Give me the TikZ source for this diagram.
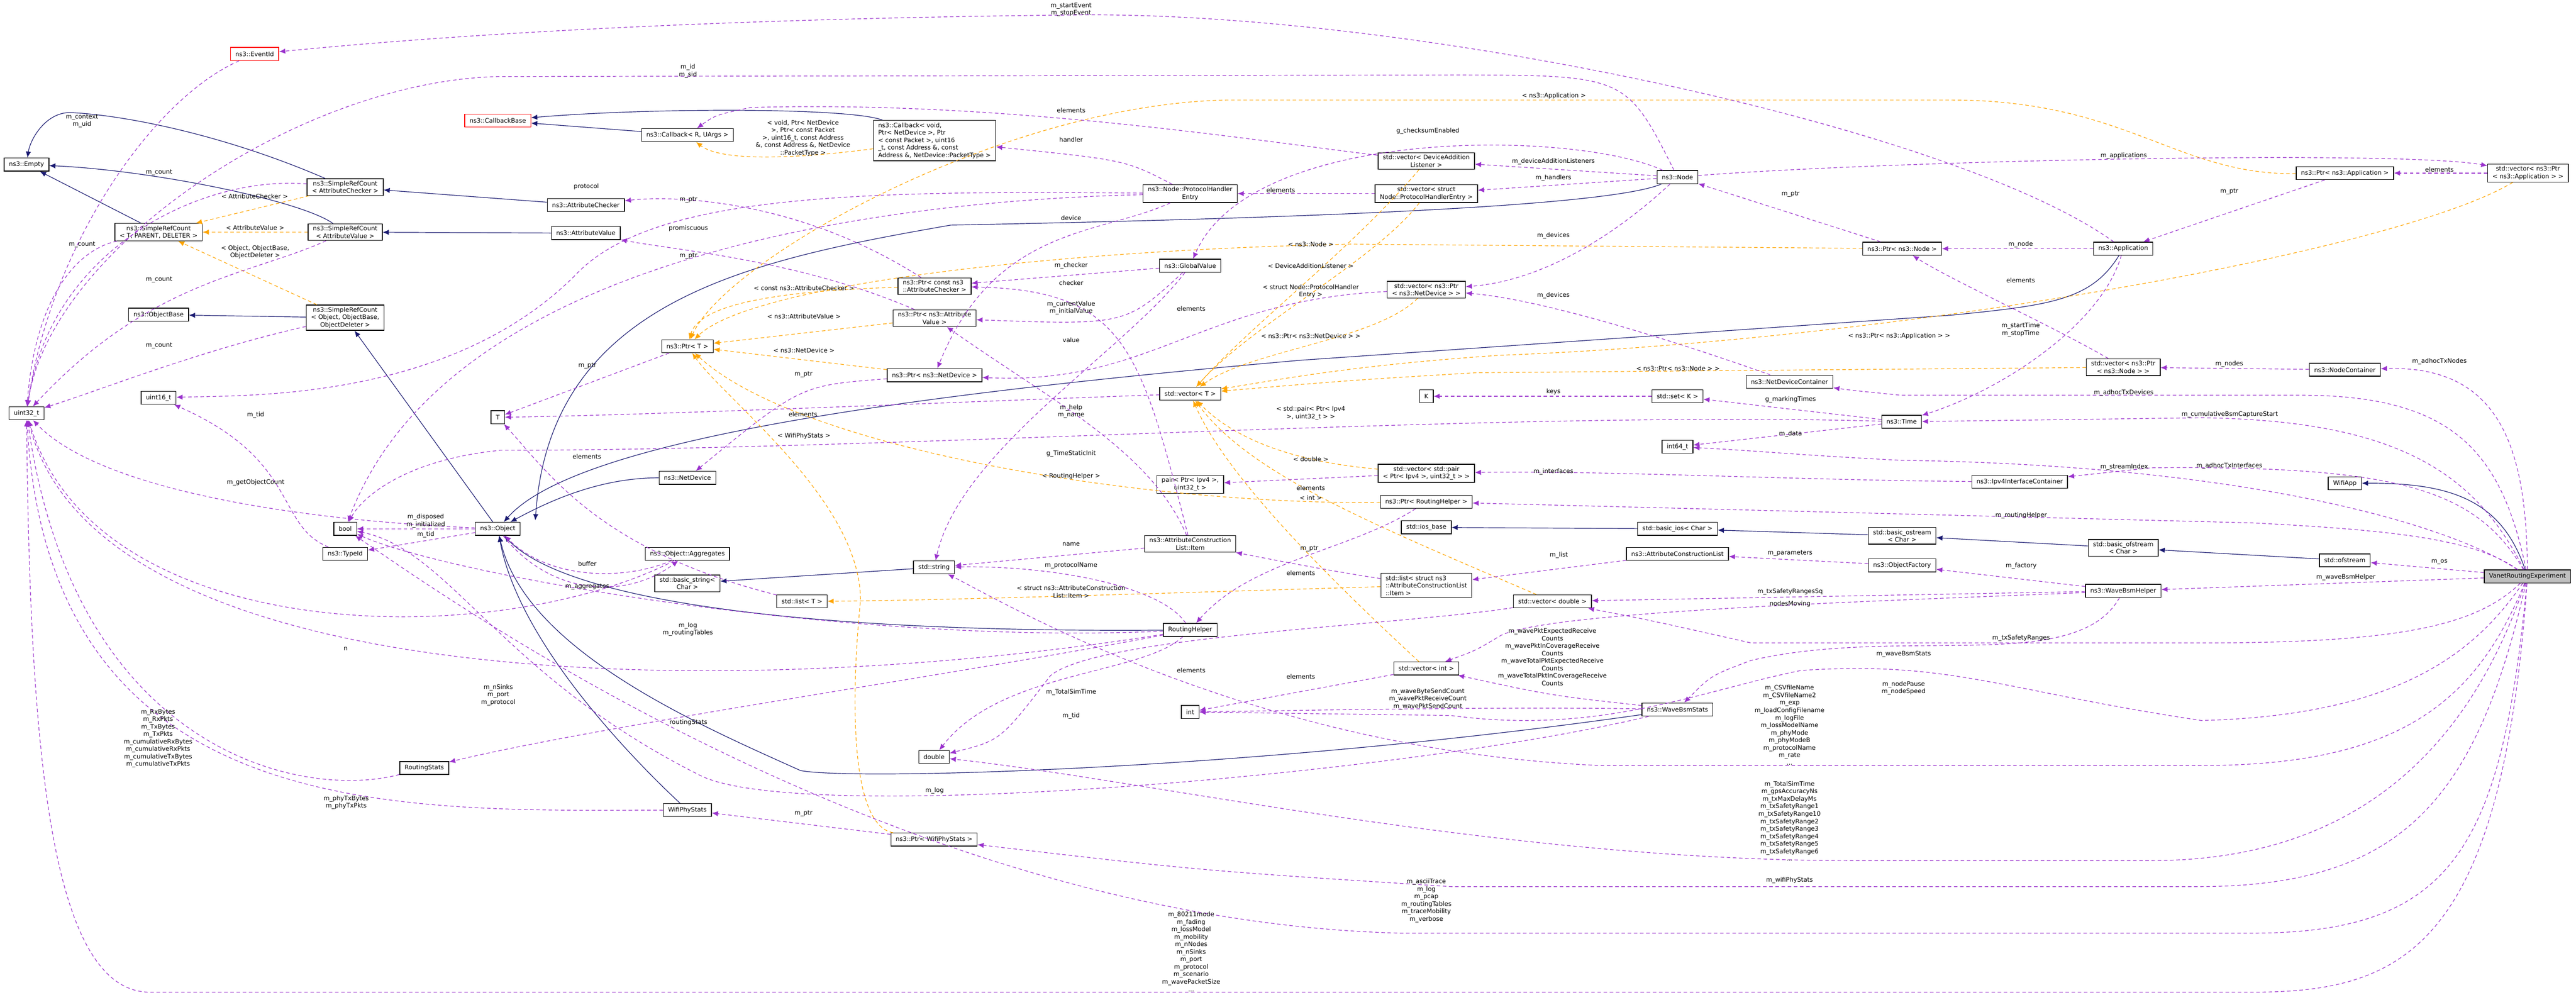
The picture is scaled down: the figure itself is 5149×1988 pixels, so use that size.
\documentclass[tikz,border=0pt]{standalone}
\usepackage{fontspec}
\setmainfont{DejaVu Sans}
\usetikzlibrary{arrows.meta}
\definecolor{purp}{HTML}{9A32CD}
\definecolor{orng}{HTML}{FFA500}
\definecolor{navy}{HTML}{191970}
\tikzset{
 box/.style={draw=black,line width=0.08pt,fill=white,align=center,inner xsep=0.55pt,inner ysep=0.25pt,minimum height=0.052cm,font=\fontsize{0.7}{0.85}\selectfont},
 redbox/.style={box,draw=red},
 lbl/.style={align=center,inner sep=0pt,font=\fontsize{0.7}{0.85}\selectfont},
 inh/.style={navy,line width=0.07pt,-{Latex[length=0.7pt,width=0.6pt]}},
 use/.style={purp,line width=0.07pt,dash pattern=on 0.4pt off 0.3pt,-{Latex[length=0.7pt,width=0.6pt]}},
 tpl/.style={orng,line width=0.07pt,dash pattern=on 0.4pt off 0.3pt,-{Latex[length=0.7pt,width=0.6pt]}},
}
\begin{document}
\begin{tikzpicture}[x=0.002cm,y=-0.002cm]
\useasboundingbox (0,0) rectangle (5149,1988);
% nodes
\node[redbox] (eventid) at (509,108) {ns3::EventId};
\node[redbox] (cbbase) at (995,241) {ns3::CallbackBase};
\node[box] (empty) at (53,329) {ns3::Empty};
\node[box] (srcac) at (690,374) {ns3::SimpleRefCount\\< AttributeChecker >};
\node[box] (srct) at (317,464) {ns3::SimpleRefCount\\< T, PARENT, DELETER >};
\node[box] (srcav) at (690,464) {ns3::SimpleRefCount\\< AttributeValue >};
\node[box] (attrchk) at (1171,410) {ns3::AttributeChecker};
\node[box] (attrval) at (1171,466) {ns3::AttributeValue};
\node[box] (objbase) at (317,629) {ns3::ObjectBase};
\node[box] (srcobj) at (690,635) {ns3::SimpleRefCount\\< Object, ObjectBase,\\ObjectDeleter >};
\node[box] (u16) at (317,795) {uint16\_t};
\node[box] (u32) at (53,826) {uint32\_t};
\node[box] (T) at (995,834) {T};
\node[box] (cbr) at (1374,270) {ns3::Callback< R, UArgs >};
\node[box,align=left] (cbv) at (1868,281) {ns3::Callback< void,\\ Ptr< NetDevice >, Ptr\\< const Packet >, uint16\\\_t, const Address \&, const\\ Address \&, NetDevice::PacketType >};
\node[box] (phe) at (2379,387) {ns3::Node::ProtocolHandler\\Entry};
\node[box] (gv) at (2379,531) {ns3::GlobalValue};
\node[box,align=left] (ptrac) at (1868,572) {ns3::Ptr< const ns3\\::AttributeChecker >};
\node[box] (ptrav) at (1868,636) {ns3::Ptr< ns3::Attribute\\Value >};
\node[box] (ptrT) at (1374,692) {ns3::Ptr< T >};
\node[box] (ptrnd) at (1868,750) {ns3::Ptr< ns3::NetDevice >};
\node[box] (vecT) at (2379,787) {std::vector< T >};
\node[box] (netdev) at (1374,955) {ns3::NetDevice};
\node[box] (pairipv4) at (2379,968) {pair< Ptr< Ipv4 >,\\uint32\_t >};
\node[box] (vdal) at (2851,322) {std::vector< DeviceAddition\\Listener >};
\node[box] (vphe) at (2851,387) {std::vector< struct\\ Node::ProtocolHandlerEntry >};
\node[box] (node) at (3353,354) {ns3::Node};
\node[box] (ptrnode) at (3802,497) {ns3::Ptr< ns3::Node >};
\node[box] (vptrnd) at (2851,579) {std::vector< ns3::Ptr\\< ns3::NetDevice > >};
\node[box] (ndc) at (3577,763) {ns3::NetDeviceContainer};
\node[box] (K) at (2851,792) {K};
\node[box] (setK) at (3353,792) {std::set< K >};
\node[box] (time) at (3801,843) {ns3::Time};
\node[box] (i64) at (3353,893) {int64\_t};
\node[box] (vpair) at (2851,946) {std::vector< std::pair\\< Ptr< Ipv4 >, uint32\_t > >};
\node[box] (ptrrh) at (2851,1003) {ns3::Ptr< RoutingHelper >};
\node[box] (ptrapp) at (4687,346) {ns3::Ptr< ns3::Application >};
\node[box] (vptrapp) at (5053,346) {std::vector< ns3::Ptr\\< ns3::Application > >};
\node[box] (app) at (4244,497) {ns3::Application};
\node[box] (vptrnode) at (4244,734) {std::vector< ns3::Ptr\\< ns3::Node > >};
\node[box] (nodecont) at (4687,739) {ns3::NodeContainer};
\node[box] (ipv4ic) at (4037,963) {ns3::Ipv4InterfaceContainer};
\node[box] (wifiapp) at (4687,966) {WifiApp};
\node[box] (bool) at (690,1057) {bool};
\node[box] (object) at (995,1057) {ns3::Object};
\node[box] (typeid) at (690,1107) {ns3::TypeId};
\node[box] (routingstats) at (848,1535) {RoutingStats};
\node[box] (aggr) at (1374,1107) {ns3::Object::Aggregates};
\node[box] (bstring) at (1374,1166) {std::basic\_string<\\Char >};
\node[box] (listT) at (1603,1202) {std::list< T >};
\node[box] (string) at (1867,1134) {std::string};
\node[box] (item) at (2379,1087) {ns3::AttributeConstruction\\List::Item};
\node[box] (rh) at (2379,1259) {RoutingHelper};
\node[box] (int) at (2379,1423) {int};
\node[box] (double) at (1867,1513) {double};
\node[box] (wps) at (1374,1619) {WifiPhyStats};
\node[box] (ptrwps) at (1867,1678) {ns3::Ptr< WifiPhyStats >};
\node[box] (iosbase) at (2851,1054) {std::ios\_base};
\node[box] (basicios) at (3353,1057) {std::basic\_ios< Char >};
\node[box] (bostream) at (3802,1071) {std::basic\_ostream\\< Char >};
\node[box] (acl) at (3353,1107) {ns3::AttributeConstructionList};
\node[box] (of) at (3802,1130) {ns3::ObjectFactory};
\node[box,align=left] (listitem) at (2851,1170) {std::list< struct ns3\\::AttributeConstructionList\\::Item >};
\node[box] (vdouble) at (3103,1202) {std::vector< double >};
\node[box] (vint) at (2851,1336) {std::vector< int >};
\node[box] (wbs) at (3353,1418) {ns3::WaveBsmStats};
\node[box] (bofstream) at (4244,1095) {std::basic\_ofstream\\< Char >};
\node[box] (ofstream) at (4687,1120) {std::ofstream};
\node[box] (wbh) at (4244,1181) {ns3::WaveBsmHelper};
\node[box,fill=black!25] (vre) at (5052,1152) {VanetRoutingExperiment};
% inheritance
\draw[inh] (srcac) .. controls (450,270) and (250,230) .. (140,225) .. controls (90,225) and (60,280) .. (empty);
\draw[inh] (srcav) .. controls (600,400) and (300,340) .. (empty);
\draw[inh] (srct) -- (empty);
\draw[inh] (attrchk) -- (srcac);
\draw[inh] (attrval) -- (srcav);
\draw[inh] (srcobj) -- (objbase);
\draw[inh] (object) -- (srcobj);
\draw[inh] (cbv) .. controls (1700,215) and (1300,215) .. (cbbase);
\draw[inh] (cbr) -- (cbbase);
\draw[inh] (node) .. controls (3200,420) and (2400,440) .. (1900,450) .. controls (1500,520) and (1100,600) .. (1070,1040);
\draw[inh] (app) .. controls (4180,600) and (4100,610) .. (3900,630) -- (2600,720) .. controls (1800,790) and (1150,880) .. (object);
\draw[inh] (netdev) .. controls (1200,955) and (1100,1000) .. (object);
\draw[inh] (rh) .. controls (1600,1265) and (1130,1200) .. (object);
\draw[inh] (wbs) .. controls (2500,1540) and (1700,1560) .. (1600,1540) .. controls (1400,1450) and (1050,1300) .. (object);
\draw[inh] (wps) .. controls (1300,1550) and (1040,1300) .. (object);
\draw[inh] (string) -- (bstring);
\draw[inh] (basicios) -- (iosbase);
\draw[inh] (bostream) -- (basicios);
\draw[inh] (bofstream) -- (bostream);
\draw[inh] (ofstream) -- (bofstream);
\draw[inh] (vre) .. controls (5000,1000) and (4900,965) .. (wifiapp);
% template
\draw[tpl] (srcac) -- (srct);
\draw[tpl] (srcav) -- (srct);
\draw[tpl] (srcobj) -- (srct);
\draw[tpl] (cbv) .. controls (1650,310) and (1450,330) .. (cbr);
\draw[tpl] (ptrac) .. controls (1600,580) and (1400,600) .. (ptrT);
\draw[tpl] (ptrav) -- (ptrT);
\draw[tpl] (ptrnd) -- (ptrT);
\draw[tpl] (ptrnode) -- (2700,488) .. controls (2100,500) and (1500,570) .. (ptrT);
\draw[tpl] (ptrapp) .. controls (4350,350) and (4250,200) .. (3900,200) -- (2450,200) .. controls (2000,210) and (1450,520) .. (ptrT);
\draw[tpl] (ptrwps) .. controls (1700,1650) and (1700,1400) .. (1720,1200) .. controls (1720,1000) and (1450,800) .. (ptrT);
\draw[tpl] (ptrrh) .. controls (2300,1010) and (1600,900) .. (ptrT);
\draw[tpl] (vdal) .. controls (2700,500) and (2500,650) .. (vecT);
\draw[tpl] (vphe) .. controls (2750,520) and (2500,650) .. (vecT);
\draw[tpl] (vptrnd) .. controls (2750,680) and (2500,700) .. (vecT);
\draw[tpl] (vpair) .. controls (2550,920) and (2450,860) .. (vecT);
\draw[tpl] (vdouble) .. controls (2750,1050) and (2500,950) .. (vecT);
\draw[tpl] (vint) .. controls (2650,1150) and (2450,950) .. (vecT);
\draw[tpl] (vptrapp) .. controls (4800,500) and (3800,680) .. (3000,710) .. controls (2700,730) and (2550,760) .. (vecT);
\draw[tpl] (vptrnode) -- (2950,745) .. controls (2700,760) .. (vecT);
\draw[tpl] (listitem) .. controls (2500,1180) and (1900,1200) .. (listT);
% usage
\draw[use] (eventid) .. controls (300,200) and (100,500) .. (u32);
\draw[use] (srcac) .. controls (400,350) and (100,500) .. (u32);
\draw[use] (srct) .. controls (150,500) and (70,600) .. (u32);
\draw[use] (srcav) .. controls (500,550) and (300,560) .. (u32);
\draw[use] (srcobj) .. controls (400,700) and (200,780) .. (u32);
\draw[use] (node) .. controls (3250,150) .. (2900,150) -- (1000,153) .. controls (600,160) and (100,500) .. (u32);
\draw[use] (object) .. controls (600,1040) and (200,980) .. (u32);
\draw[use] (aggr) .. controls (1000,1300) and (200,1300) .. (u32);
\draw[use] (rh) .. controls (1500,1400) and (200,1400) .. (u32);
\draw[use] (routingstats) .. controls (600,1600) and (150,1500) .. (u32);
\draw[use] (wps) .. controls (800,1620) and (100,1650) .. (u32);
\draw[use] (vre) .. controls (5000,1900) and (4800,1983) .. (4500,1983) -- (300,1983) .. controls (100,1983) and (60,1500) .. (u32);
\draw[use] (app) .. controls (3900,250) and (2800,20) .. (2141,30) .. controls (1200,40) and (700,90) .. (eventid);
\draw[use] (phe) .. controls (1700,380) and (1300,390) .. (1150,550) .. controls (900,800) and (500,790) .. (u16);
\draw[use] (typeid) .. controls (550,1050) and (600,920) .. (u16);
\draw[use] (ptrT) -- (T);
\draw[use] (vecT) .. controls (2000,800) and (1300,830) .. (T);
\draw[use] (listT) .. controls (1200,1100) and (1100,950) .. (T);
\draw[use] (vdal) .. controls (2500,280) and (2000,200) .. (1500,215) .. controls (1430,230) .. (cbr);
\draw[use] (phe) .. controls (2250,320) .. (cbv);
\draw[use] (vphe) -- (phe);
\draw[use] (ptrac) .. controls (1600,400) and (1350,390) .. (attrchk);
\draw[use] (ptrav) .. controls (1600,520) and (1350,500) .. (attrval);
\draw[use] (phe) .. controls (1800,400) and (900,500) .. (bool);
\draw[use] (phe) .. controls (2200,470) and (1990,450) .. (ptrnd);
\draw[use] (node) .. controls (3150,260) and (2500,250) .. (gv);
\draw[use] (gv) -- (ptrac);
\draw[use] (item) .. controls (2280,700) and (2250,580) .. (ptrac);
\draw[use] (gv) .. controls (2250,650) .. (ptrav);
\draw[use] (item) .. controls (2300,900) and (2100,800) .. (ptrav);
\draw[use] (vptrnd) .. controls (2400,600) and (2300,770) .. (ptrnd);
\draw[use] (ptrnd) .. controls (1600,770) .. (netdev);
\draw[use] (gv) .. controls (2250,700) and (1920,900) .. (string);
\draw[use] (time) .. controls (3000,820) and (1800,900) .. (1000,900) .. controls (800,920) and (720,1000) .. (bool);
\draw[use] (vpair) -- (pairipv4);
\draw[use] (node) -- (vdal);
\draw[use] (node) -- (vphe);
\draw[use] (ptrnode) -- (node);
\draw[use] (node) .. controls (3250,450) and (3100,560) .. (vptrnd);
\draw[use] (ndc) .. controls (3400,700) and (3100,600) .. (vptrnd);
\draw[use] (setK) -- (K);
\draw[use] (time) -- (setK);
\draw[use] (time) -- (i64);
\draw[use] (ipv4ic) .. controls (3600,960) and (3200,940) .. (vpair);
\draw[use] (vptrnode) .. controls (4100,650) and (3900,560) .. (ptrnode);
\draw[use] (node) .. controls (3800,320) and (4800,300) .. (vptrapp);
\draw[use] (vptrapp) -- (ptrapp);
\draw[use] (ptrapp) -- (app);
\draw[use] (app) -- (ptrnode);
\draw[use] (app) .. controls (4200,650) and (4000,780) .. (time);
\draw[use] (nodecont) -- (vptrnode);
\draw[use] (vre) .. controls (5050,900) and (5000,730) .. (nodecont);
\draw[use] (vre) .. controls (5000,900) and (4900,790) .. (4600,790) -- (3800,790) .. controls (3700,780) .. (ndc);
\draw[use] (vre) .. controls (4950,950) and (4800,840) .. (4400,835) -- (time);
\draw[use] (vre) .. controls (4900,1050) and (4500,930) .. (3800,920) .. controls (3600,910) and (3500,900) .. (i64);
\draw[use] (vre) .. controls (4950,980) and (4800,930) .. (4300,935) -- (ipv4ic);
\draw[use] (object) -- (bool);
\draw[use] (object) -- (typeid);
\draw[use] (aggr) .. controls (1250,1160) and (1100,1160) .. (object);
\draw[use] (object) .. controls (1100,1190) and (1250,1200) .. (aggr);
\draw[use] (rh) .. controls (1700,1290) and (900,1150) .. (bool);
\draw[use] (item) -- (string);
\draw[use] (rh) .. controls (2320,1170) and (2100,1130) .. (string);
\draw[use] (rh) .. controls (1900,1350) and (1200,1450) .. (routingstats);
\draw[use] (vdouble) .. controls (2800,1250) and (2200,1270) .. (2100,1350) .. controls (2000,1480) .. (double);
\draw[use] (rh) .. controls (2280,1350) and (2000,1340) .. (double);
\draw[use] (wbs) .. controls (2800,1550) and (1600,1650) .. (1400,1550) .. controls (1000,1350) and (900,1100) .. (bool);
\draw[use] (ptrwps) -- (wps);
\draw[use] (vre) .. controls (4900,1600) and (4600,1720) .. (4300,1720) -- (3700,1720) .. controls (3000,1720) and (2300,1560) .. (double);
\draw[use] (vre) .. controls (4950,1600) and (4800,1770) .. (4400,1772) -- (2900,1772) .. controls (2400,1740) .. (ptrwps);
\draw[use] (vre) .. controls (5000,1700) and (4900,1865) .. (4500,1865) -- (2800,1865) .. controls (1800,1840) and (900,1200) .. (bool);
\draw[use] (vre) .. controls (4950,1400) and (4800,1530) .. (4400,1530) -- (3200,1530) .. controls (2500,1500) and (2000,1200) .. (string);
\draw[use] (vre) .. controls (4950,1300) and (4800,1430) .. (4400,1440) .. controls (4000,1380) and (3900,1320) .. (3600,1340) .. controls (3400,1380) and (3200,1470) .. (2900,1430) -- (int);
\draw[use] (acl) -- (listitem);
\draw[use] (of) -- (acl);
\draw[use] (wbh) -- (vdouble);
\draw[use] (wbh) .. controls (3800,1200) and (3100,1220) .. (3000,1270) .. controls (2950,1300) .. (vint);
\draw[use] (wbs) .. controls (3100,1390) .. (vint);
\draw[use] (wbs) .. controls (3000,1412) and (2600,1420) .. (int);
\draw[use] (wbh) .. controls (4150,1350) and (3800,1250) .. (3500,1320) .. controls (3420,1350) .. (wbs);
\draw[use] (listitem) .. controls (2650,1140) and (2500,1110) .. (item);
\draw[use] (ptrrh) .. controls (2700,1100) and (2500,1120) .. (rh);
\draw[use] (vint) -- (int);
\draw[use] (vre) .. controls (4950,1080) and (4800,1060) .. (4500,1045) -- (ptrrh);
\draw[use] (wbh) -- (of);
\draw[use] (vre) -- (ofstream);
\draw[use] (vre) -- (wbh);
\draw[use] (vre) .. controls (4950,1250) and (4800,1285) .. (4400,1285) -- (3500,1285) .. controls (3300,1240) .. (vdouble);
% labels
\node[lbl] (l1) at (164,242) {m\_context\\m\_uid};
\node[lbl] (l2) at (318,345) {m\_count};
\node[lbl] (l3) at (509,392) {< AttributeChecker >};
\node[lbl] (l4) at (510,455) {< AttributeValue >};
\node[lbl] (l5) at (510,504) {< Object, ObjectBase,\\ObjectDeleter >};
\node[lbl] (l6) at (164,489) {m\_count};
\node[lbl] (l7) at (318,559) {m\_count};
\node[lbl] (l8) at (318,691) {m\_count};
\node[lbl] (l9) at (1172,373) {protocol};
\node[lbl] (l10) at (1174,731) {m\_ptr};
\node[lbl] (l11) at (1173,913) {elements};
\node[lbl] (l12) at (511,829) {m\_tid};
\node[lbl] (l13) at (511,964) {m\_getObjectCount};
\node[lbl] (l14) at (2141,19) {m\_startEvent\\m\_stopEvent};
\node[lbl] (l15) at (1375,142) {m\_id\\m\_sid};
\node[lbl] (l16) at (2141,220) {elements};
\node[lbl] (l17) at (2141,279) {handler};
\node[lbl] (l18) at (1605,276) {< void, Ptr< NetDevice\\>, Ptr< const Packet\\>, uint16\_t, const Address\\\&, const Address \&, NetDevice\\::PacketType >};
\node[lbl] (l19) at (2560,380) {elements};
\node[lbl] (l20) at (1376,399) {m\_ptr};
\node[lbl] (l21) at (1376,456) {promiscuous};
\node[lbl] (l22) at (2141,436) {device};
\node[lbl] (l23) at (1376,512) {m\_ptr};
\node[lbl] (l24) at (2141,531) {m\_checker};
\node[lbl] (l25) at (2141,565) {checker};
\node[lbl] (l26) at (1607,576) {< const ns3::AttributeChecker >};
\node[lbl] (l27) at (2141,615) {m\_currentValue\\m\_initialValue};
\node[lbl] (l28) at (2381,617) {elements};
\node[lbl] (l29) at (1607,632) {< ns3::AttributeValue >};
\node[lbl] (l30) at (2141,680) {value};
\node[lbl] (l31) at (1607,700) {< ns3::NetDevice >};
\node[lbl] (l32) at (1606,748) {m\_ptr};
\node[lbl] (l33) at (1605,828) {elements};
\node[lbl] (l34) at (2141,822) {m\_help\\m\_name};
\node[lbl] (l35) at (1607,871) {< WifiPhyStats >};
\node[lbl] (l36) at (2141,907) {g\_TimeStaticInit};
\node[lbl] (l37) at (2141,952) {< RoutingHelper >};
\node[lbl] (l38) at (2620,488) {< ns3::Node >};
\node[lbl] (l39) at (2620,531) {< DeviceAdditionListener >};
\node[lbl] (l40) at (2620,582) {< struct Node::ProtocolHandler\\Entry >};
\node[lbl] (l41) at (2620,672) {< ns3::Ptr< ns3::NetDevice > >};
\node[lbl] (l42) at (2620,826) {< std::pair< Ptr< Ipv4\\>, uint32\_t > >};
\node[lbl] (l43) at (2620,918) {< double >};
\node[lbl] (l44) at (2620,975) {elements};
\node[lbl] (l45) at (2620,995) {< int >};
\node[lbl] (l46) at (3106,192) {< ns3::Application >};
\node[lbl] (l47) at (2854,262) {g\_checksumEnabled};
\node[lbl] (l48) at (3105,323) {m\_deviceAdditionListeners};
\node[lbl] (l49) at (3105,356) {m\_handlers};
\node[lbl] (l50) at (3579,388) {m\_ptr};
\node[lbl] (l51) at (3105,471) {m\_devices};
\node[lbl] (l52) at (3105,591) {m\_devices};
\node[lbl] (l53) at (3796,672) {< ns3::Ptr< ns3::Application > >};
\node[lbl] (l54) at (3354,736) {< ns3::Ptr< ns3::Node > >};
\node[lbl] (l55) at (3105,783) {keys};
\node[lbl] (l56) at (3579,799) {g\_markingTimes};
\node[lbl] (l57) at (3579,868) {m\_data};
\node[lbl] (l58) at (3105,943) {m\_interfaces};
\node[lbl] (l59) at (4039,560) {elements};
\node[lbl] (l60) at (4245,311) {m\_applications};
\node[lbl] (l61) at (4876,339) {elements};
\node[lbl] (l62) at (4456,383) {m\_ptr};
\node[lbl] (l63) at (4039,489) {m\_node};
\node[lbl] (l64) at (4039,659) {m\_startTime\\m\_stopTime};
\node[lbl] (l65) at (4456,727) {m\_nodes};
\node[lbl] (l66) at (4876,722) {m\_adhocTxNodes};
\node[lbl] (l67) at (4245,785) {m\_adhocTxDevices};
\node[lbl] (l68) at (4457,828) {m\_cumulativeBsmCaptureStart};
\node[lbl] (l69) at (4246,933) {m\_streamIndex};
\node[lbl] (l70) at (4456,931) {m\_adhocTxInterfaces};
\node[lbl] (l71) at (851,1041) {m\_disposed\\m\_initialized};
\node[lbl] (l72) at (851,1068) {m\_tid};
\node[lbl] (l73) at (1174,1127) {buffer};
\node[lbl] (l74) at (1174,1173) {m\_aggregates};
\node[lbl] (l75) at (691,1297) {n};
\node[lbl] (l76) at (996,1389) {m\_nSinks\\m\_port\\m\_protocol};
\node[lbl] (l77) at (316,1476) {m\_RxBytes\\m\_RxPkts\\m\_TxBytes\\m\_TxPkts\\m\_cumulativeRxBytes\\m\_cumulativeRxPkts\\m\_cumulativeTxBytes\\m\_cumulativeTxPkts};
\node[lbl] (l78) at (692,1604) {m\_phyTxBytes\\m\_phyTxPkts};
\node[lbl] (l79) at (1375,1258) {m\_log\\m\_routingTables};
\node[lbl] (l80) at (2141,1088) {name};
\node[lbl] (l81) at (2141,1130) {m\_protocolName};
\node[lbl] (l82) at (2141,1183) {< struct ns3::AttributeConstruction\\List::Item >};
\node[lbl] (l83) at (1376,1444) {routingStats};
\node[lbl] (l84) at (2381,1340) {elements};
\node[lbl] (l85) at (2141,1383) {m\_TotalSimTime};
\node[lbl] (l86) at (2141,1431) {m\_tid};
\node[lbl] (l87) at (1868,1580) {m\_log};
\node[lbl] (l88) at (1606,1626) {m\_ptr};
\node[lbl] (l89) at (2381,1902) {m\_80211mode\\m\_fading\\m\_lossModel\\m\_mobility\\m\_nNodes\\m\_nSinks\\m\_port\\m\_protocol\\m\_scenario\\m\_wavePacketSize\\...};
\node[lbl] (l90) at (3116,1110) {m\_list};
\node[lbl] (l91) at (3578,1106) {m\_parameters};
\node[lbl] (l92) at (3578,1183) {m\_txSafetyRangesSq};
\node[lbl] (l93) at (3578,1207) {nodesMoving};
\node[lbl] (l94) at (3103,1313) {m\_wavePktExpectedReceive\\Counts\\m\_wavePktInCoverageReceive\\Counts\\m\_waveTotalPktExpectedReceive\\Counts\\m\_waveTotalPktInCoverageReceive\\Counts};
\node[lbl] (l95) at (3805,1307) {m\_waveBsmStats};
\node[lbl] (l96) at (3805,1375) {m\_nodePause\\m\_nodeSpeed};
\node[lbl] (l97) at (3577,1449) {m\_CSVfileName\\m\_CSVfileName2\\m\_exp\\m\_loadConfigFilename\\m\_logFile\\m\_lossModelName\\m\_phyMode\\m\_phyModeB\\m\_protocolName\\m\_rate\\...};
\node[lbl] (l98) at (2854,1397) {m\_waveByteSendCount\\m\_wavePktReceiveCount\\m\_wavePktSendCount};
\node[lbl] (l99) at (3577,1641) {m\_TotalSimTime\\m\_gpsAccuracyNs\\m\_txMaxDelayMs\\m\_txSafetyRange1\\m\_txSafetyRange10\\m\_txSafetyRange2\\m\_txSafetyRange3\\m\_txSafetyRange4\\m\_txSafetyRange5\\m\_txSafetyRange6\\...};
\node[lbl] (l100) at (3577,1759) {m\_wifiPhyStats};
\node[lbl] (l101) at (2851,1800) {m\_asciiTrace\\m\_log\\m\_pcap\\m\_routingTables\\m\_traceMobility\\m\_verbose};
\node[lbl] (l102) at (4040,1030) {m\_routingHelper};
\node[lbl] (l103) at (4040,1131) {m\_factory};
\node[lbl] (l104) at (4876,1123) {m\_os};
\node[lbl] (l105) at (4689,1154) {m\_waveBsmHelper};
\node[lbl] (l106) at (4040,1275) {m\_txSafetyRanges};
\node[lbl] (l107) at (2617,1096) {m\_ptr};
\node[lbl] (l108) at (2600,1352) {elements};
\node[lbl] (l109) at (2600,1145) {elements};
\end{tikzpicture}
\end{document}
